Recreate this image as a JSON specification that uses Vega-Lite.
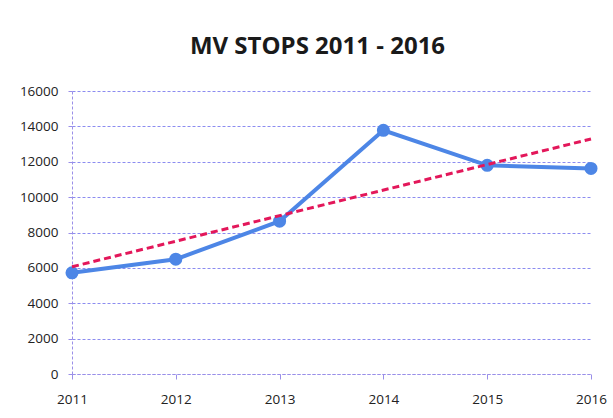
{
  "$schema": "https://vega.github.io/schema/vega-lite/v6.json",
  "autosize": "none",
  "width": 519,
  "height": 283,
  "padding": {"left": 72, "top": 91, "right": 22, "bottom": 44},
  "background": "white",
  "title": {
    "text": "MV STOPS 2011 - 2016",
    "font": "Open Sans",
    "fontSize": 24,
    "fontWeight": "bold",
    "color": "#1a1a1a",
    "anchor": "middle",
    "dx": -14,
    "offset": 25
  },
  "data": {
    "values": [
      {"year": 2011, "stops": 5720},
      {"year": 2012, "stops": 6490},
      {"year": 2013, "stops": 8640},
      {"year": 2014, "stops": 13780},
      {"year": 2015, "stops": 11800},
      {"year": 2016, "stops": 11620}
    ]
  },
  "config": {
    "view": {"stroke": null},
    "axis": {
      "labelFont": "Open Sans",
      "labelFontSize": 13.5,
      "labelColor": "#222",
      "domainColor": "#9a8fe8",
      "tickColor": "#9a8fe8",
      "gridColor": "#8c8cf0",
      "gridDash": [3, 2],
      "gridWidth": 1,
      "title": null
    }
  },
  "encoding": {
    "x": {
      "field": "year",
      "type": "quantitative",
      "scale": {"domain": [2011, 2016], "nice": false, "zero": false},
      "axis": {"values": [2011, 2012, 2013, 2014, 2015, 2016], "format": "d", "grid": false, "tickSize": 5, "labelPadding": 13, "labelFlush": false, "domainDash": [3, 2]}
    },
    "y": {
      "field": "stops",
      "type": "quantitative",
      "scale": {"domain": [0, 16000], "nice": false},
      "axis": {"values": [0, 2000, 4000, 6000, 8000, 10000, 12000, 14000, 16000], "format": "d", "tickSize": 4, "labelPadding": 10, "domainDash": [3, 2]}
    }
  },
  "layer": [
    {
      "mark": {"type": "line", "color": "#4d86e6", "strokeWidth": 4, "point": {"filled": true, "size": 170, "color": "#4d86e6"}}
    },
    {
      "transform": [{"regression": "stops", "on": "year", "extent": [2011, 2016]}],
      "mark": {"type": "line", "color": "#e3175a", "strokeWidth": 3, "strokeDash": [7, 4]}
    }
  ]
}
